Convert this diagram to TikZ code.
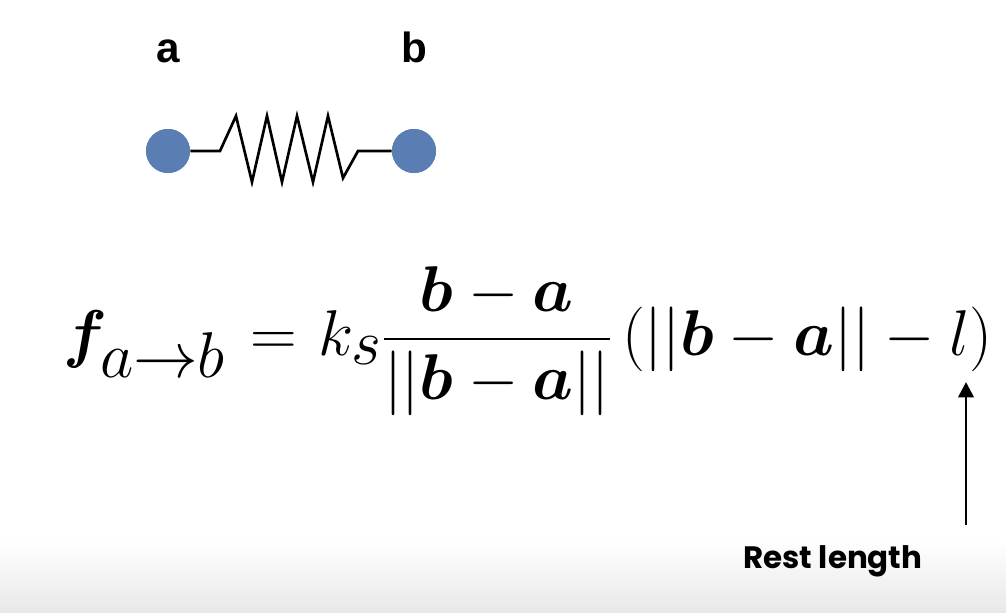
\RequirePackage{fix-cm}
\documentclass[tikz,border=0pt]{standalone}
\usepackage{amsmath,bm}
\usepackage{fontspec}
\newfontfamily\labfont{Liberation Sans}
\newfontfamily\restfont{Poppins}
\usetikzlibrary{arrows.meta}
\definecolor{ballblue}{RGB}{90,125,180}
\definecolor{fadegray}{RGB}{232,232,232}
\tikzset{
  ball/.style={circle,fill=ballblue,minimum size=31.3pt,inner sep=0pt},
  spring/.style={line width=1.9pt,line join=miter,black},
  ptlabel/.style={font=\labfont\bfseries\fontsize{30}{35}\selectfont,inner sep=0pt,anchor=base},
  pointer/.style={line width=2pt,-{Triangle[length=11pt,width=11pt]}}
}
\begin{document}
\begin{tikzpicture}[x=0.025cm,y=-0.025cm]
\useasboundingbox (0,0) rectangle (1006,612);
\fill[white] (0,0) rectangle (1006,612);
\shade[top color=white,bottom color=fadegray] (0,540) rectangle (1006,612);
% balls and spring
\node[ball] (a) at (168,151) {};
\node[ball] (b) at (414,151) {};
\node[ptlabel] (la) at (168,62) {a};
\node[ptlabel] (lb) at (414,62) {b};
\coordinate (s0) at (220,151);
\coordinate (s9) at (358,151);
\draw[spring] (a) -- (s0) -- (236,116) -- (252,182) -- (267,116) -- (282,182)
  -- (297,116) -- (313,182) -- (328,116) -- (343,178) -- (s9) -- (b);
\fill[ballblue] (a) circle[radius=22];
\fill[ballblue] (b) circle[radius=22];
% formula
\node[inner sep=0pt,anchor=base west,font=\fontsize{46}{55}\selectfont] (eq) at (63,355)
  {$\displaystyle \bm{f}_{\displaystyle a{\rightarrow}b}\mkern2mu = \mkern1mu k_{\displaystyle s}\frac{\bm{b}-\bm{a}}{||\bm{b}-\bm{a}||}\,(||\bm{b}-\bm{a}||-l)$};
% rest length
\node[inner sep=0pt,anchor=base west,font=\restfont\bfseries\fontsize{22}{26}\selectfont] (rest) at (743,568) {Rest length};
\coordinate (arrowtail) at (966,525);
\coordinate (lpos) at (966,382);
\draw[pointer] (arrowtail) -- (lpos);
\end{tikzpicture}
\end{document}
